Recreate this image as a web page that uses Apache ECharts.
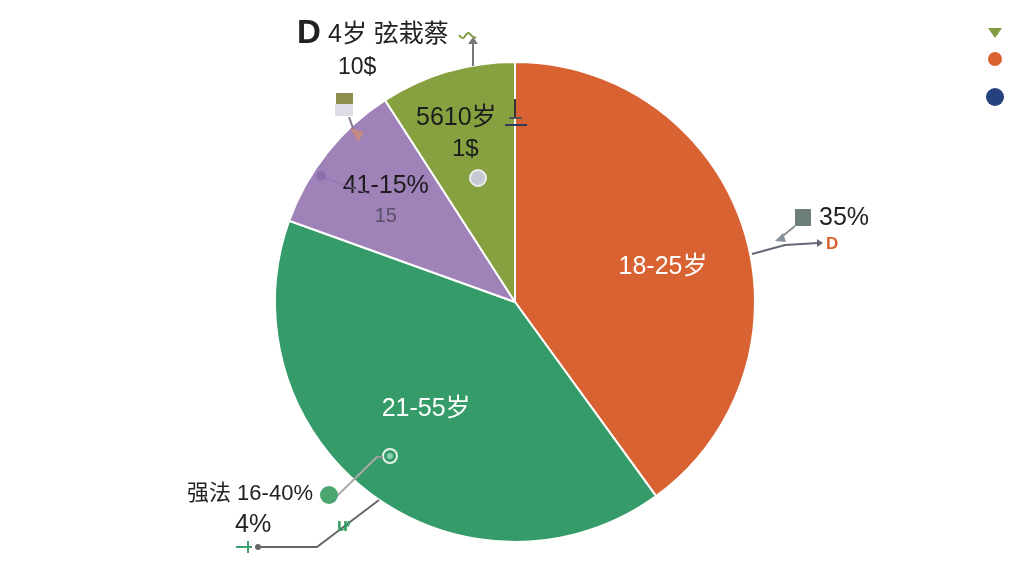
<!DOCTYPE html>
<html><head><meta charset="utf-8">
<style>html,body{margin:0;padding:0;background:#fff}#c{width:1024px;height:576px}</style>
<script src="https://cdn.jsdelivr.net/npm/echarts@6/dist/echarts.min.js"></script>
</head><body><div id="c"></div>
<script>
const categories = ['18-25岁', '21-55岁', '41-15%', '5610岁'];
const labels = ['18-25岁', '21-55岁', '41-15%\n{sub|15}', '5610岁\n{sub2|1$}'];
const values = [40, 40.5, 10.4, 9.1];
const colors = ['#D96232', '#359C69', '#9E82B8', '#87A040'];
const labelColors = ['#fff', '#fff', '#1c1c1c', '#1c1c1c'];
const labelShift = [[31, 3], [-15, 9], [-33, -24], [-24, -50]];
const outerTexts = [
  ['D', 297, 34, 33, 'bold'], ['4岁 弦栽蔡', 328, 35, 25, 'normal'], ['10$', 338, 68, 23, 'normal'],
  ['35%', 819, 218, 25, 'normal'], ['强法 16-40%', 187, 494, 22, 'normal'], ['4%', 235, 525, 25, 'normal']
];
const font = '"Liberation Sans","Noto Sans CJK SC",sans-serif';
const line = (pts, color, w, smooth) => ({type:'polyline', z:10, shape:{points:pts, smooth:smooth||0}, style:{stroke:color, lineWidth:w||2, fill:null}});
const dot = (x,y,r,fill,stroke,lw) => ({type:'circle', z:10, shape:{cx:x,cy:y,r}, style:{fill, stroke:stroke||null, lineWidth:lw||0}});
const rect = (x,y,w,h,fill) => ({type:'rect', z:10, shape:{x,y,width:w,height:h}, style:{fill}});
const tri = (pts,fill) => ({type:'polygon', z:10, shape:{points:pts}, style:{fill}});
const txt = (t,x,y,s,c,w) => ({type:'text', z:11, x, y, style:{text:t, font:(w||'normal')+' '+s+'px '+font, fill:c||'#1c1c1c', textVerticalAlign:'middle'}});
const graphic = [
  ...outerTexts.map(a => txt(a[0],a[1],a[2],a[3],'#222',a[4])),
  // legend markers
  tri([[988,28],[1002,28],[995,38]],'#7F9C3F'), dot(995,59,7,'#D9622F'), dot(995,97,9,'#25427F'),
  // top arrow and squiggle
  line([[473,66],[473,42]],'#777',2), tri([[468,44],[478,44],[473,37]],'#777'),
  line([[459,35],[463,38],[468,33],[472,36],[476,38]],'#7F9C3F',2,0.5),
  // flag icon near purple slice
  rect(336,93,17,11,'#8C8E4E'), rect(335,104,18,12,'#DDDDE6'),
  line([[349,117],[354,131]],'#88788f',2), tri([[350,128],[364,132],[358,142]],'#C58A88'),
  // olive slice marks
  line([[515,99],[515,118]],'#333',2), line([[505,125],[527,125]],'#2E3A5C',2), line([[509,118],[522,118]],'#555',2),
  dot(478,178,8,'#C6C8D2','#eee',2),
  // purple slice marks
  dot(321,176,5,'#8B70AE'), line([[325,178],[372,195]],'#8B70AE',1),
  // right callout
  rect(795,209,16,17,'#6C7F7B'), line([[795,226],[779,239]],'#88909a',2), tri([[775,241],[783,233],[786,242]],'#88909a'),
  line([[752,254],[785,245],[818,243]],'#667',2), tri([[817,239],[817,247],[823,243]],'#667'),
  txt('D',826,244,17,'#D9622F','bold'),
  // lower left callouts
  dot(390,456,7,'rgba(0,0,0,0)','#E6F2EA',2), dot(390,456,3,'#8FD0AE'), line([[376,457],[383,457]],'#999',2),
  line([[377,457],[337,496]],'#aaa',2), dot(329,495,9,'#4CA56F'),
  line([[379,500],[317,547],[258,547]],'#666',2), dot(258,547,3,'#666'),
  line([[236,547],[252,547]],'#3EA06C',2), line([[248,541],[248,553]],'#3EA06C',2),
  txt('ư',337,526,18,'#2E9E5E','bold')
];
const chart = echarts.init(document.getElementById('c'));
chart.setOption({
  animation:false,
  backgroundColor:'#fff',
  graphic,
  series:[{
    type:'pie', center:[515,302], radius:[0,240], startAngle:90, silent:true,
    itemStyle:{borderColor:'#fff', borderWidth:2},
    label:{position:'inside', fontFamily:font, fontSize:25, lineHeight:31,
      rich:{sub:{fontFamily:font, fontSize:20, color:'#5a5068', lineHeight:31},
            sub2:{fontFamily:font, fontSize:24, color:'#1c1c1c', lineHeight:31, padding:[0,0,0,18]}}},
    labelLine:{show:false},
    labelLayout:p => ({dx:labelShift[p.dataIndex][0], dy:labelShift[p.dataIndex][1]}),
    data:categories.map((name,i)=>({name, value:values[i],
      itemStyle:{color:colors[i]},
      label:{formatter:labels[i], color:labelColors[i]}}))
  }]
});
</script></body></html>
